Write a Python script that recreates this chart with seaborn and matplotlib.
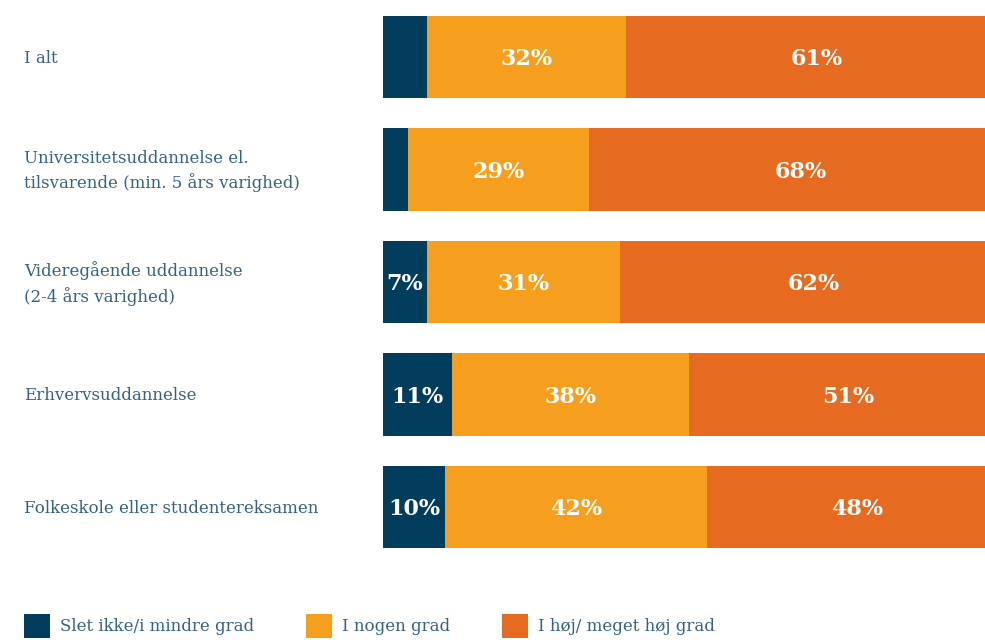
import matplotlib
matplotlib.use("Agg")
import matplotlib.pyplot as plt
from matplotlib.patches import Patch
import seaborn as sns
import pandas as pd

# Data
categories = [
    "I alt",
    "Universitetsuddannelse el.\ntilsvarende (min. 5 års varighed)",
    "Videregående uddannelse\n(2-4 års varighed)",
    "Erhvervsuddannelse",
    "Folkeskole eller studentereksamen",
]
slet_ikke = [7, 4, 7, 11, 10]
nogen_grad = [32, 29, 31, 38, 42]
hoej_grad = [61, 68, 62, 51, 48]
show_slet_label = [False, False, True, True, True]
legend_labels = ["Slet ikke/i mindre grad", "I nogen grad", "I høj/ meget høj grad"]

colors = ["#023d5e", "#f69f1f", "#e76a21"]
text_color = "#34637f"

sns.set_theme(style="white")
plt.rcParams["font.family"] = ["DejaVu Serif"]

df = pd.DataFrame({
    "cat": categories,
    "a": slet_ikke,
    "b": nogen_grad,
    "c": hoej_grad,
})
df["ab"] = df["a"] + df["b"]
df["abc"] = df["ab"] + df["c"]

W, H = 985, 640
fig = plt.figure(figsize=(W / 100, H / 100), dpi=100)
ax_top, ax_bot = 16, 548
ax = fig.add_axes([383 / W, 1 - ax_bot / H, 1 - 383 / W, (ax_bot - ax_top) / H])

bar_w = 0.73
# Stacked bars drawn as cumulative layers, widest first
for col, color in zip(["abc", "ab", "a"], colors[::-1]):
    sns.barplot(data=df, x=col, y="cat", orient="h", color=color,
                width=bar_w, saturation=1, ax=ax, edgecolor="none",
                linewidth=0)

ax.set_xlim(0, 96.5)
ax.set_ylim(len(categories) - 1 + bar_w / 2, -bar_w / 2)
ax.set_axis_off()

# Value labels inside segments
for i in range(len(categories)):
    a, b, c = slet_ikke[i], nogen_grad[i], hoej_grad[i]
    kw = dict(ha="center", va="center", color="white", fontsize=16,
              fontweight="bold", clip_on=True)
    y = i + 0.02
    if show_slet_label[i]:
        ax.text(a / 2, y, f"{a}%", **kw)
    ax.text(a + b / 2, y, f"{b}%", **kw)
    ax.text(a + b + c / 2, y, f"{c}%", **kw)

# Category labels on the left
for i, cat in enumerate(categories):
    y_px = ax_top + (i + bar_w / 2) * (ax_bot - ax_top) / (len(categories) - 1 + bar_w) + 1.5
    fig.text(24 / W, 1 - y_px / H, cat, ha="left", va="center",
             color=text_color, fontsize=12, linespacing=1.45)

handles = [Patch(facecolor=c, edgecolor="none") for c in colors]
fs = 12
px = fs * 100 / 72
fig.legend(handles, legend_labels, loc="upper left",
           bbox_to_anchor=(24 / W, 1 - 614 / H), ncol=3, frameon=False,
           fontsize=fs, labelcolor=text_color, borderaxespad=0, borderpad=0,
           handlelength=26 / px, handleheight=30 / px,
           handletextpad=10 / px, columnspacing=52 / px)

fig.savefig("out.png", dpi=100)
